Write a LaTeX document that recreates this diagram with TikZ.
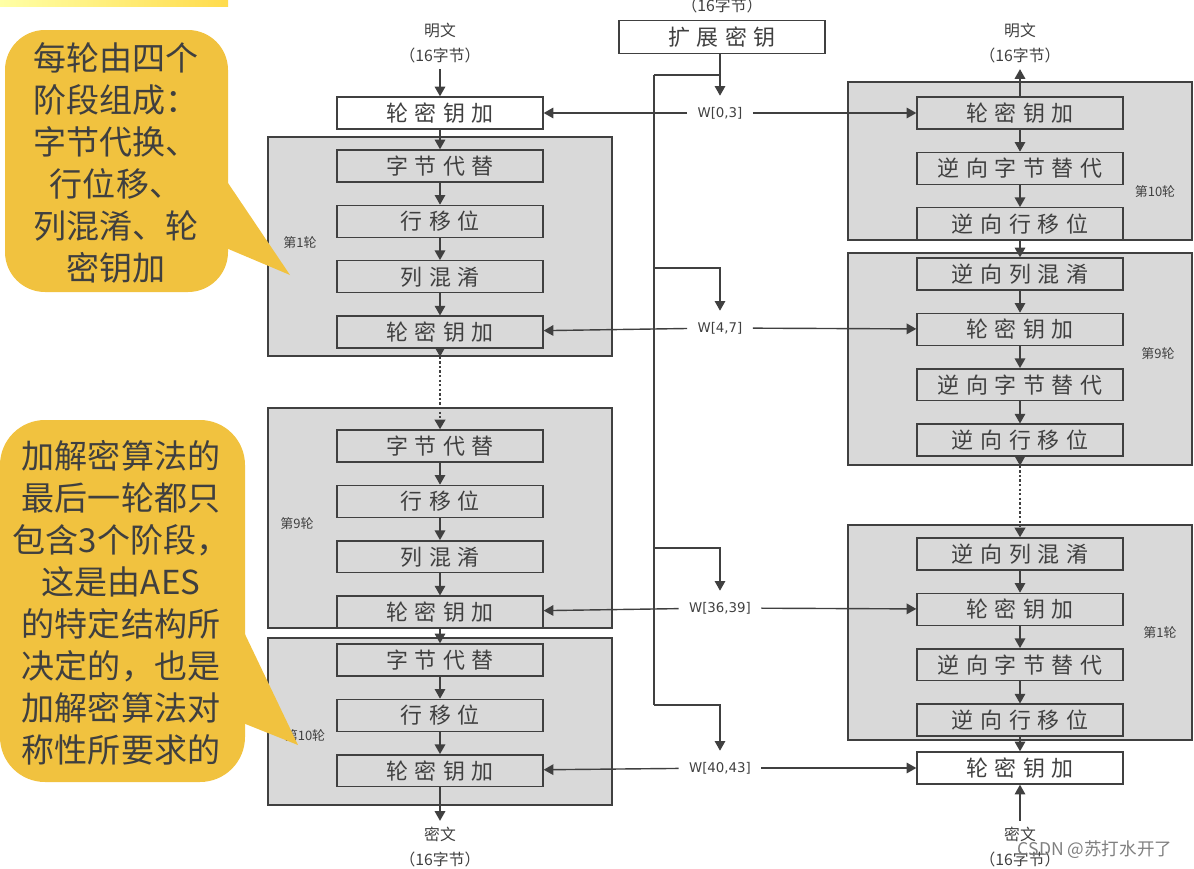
\documentclass[tikz,border=0pt]{standalone}
\usepackage{fontspec}
\setmainfont{Noto Sans CJK SC}
\newfontfamily\stagefont[LetterSpace=30]{Noto Sans CJK SC}
\newfontfamily\wfont{DejaVu Sans}
\usetikzlibrary{arrows.meta,positioning}
\definecolor{ink}{HTML}{404040}
\definecolor{roundgray}{HTML}{D9D9D9}
\definecolor{notefill}{HTML}{F1C23F}
\definecolor{notetext}{HTML}{3F3F3F}
\definecolor{mark}{HTML}{808080}
\tikzset{
  stagebox/.style={draw=ink,line width=.8pt,minimum width=4.12cm,minimum height=.64cm,inner sep=0pt,font=\stagefont\fontsize{12.5}{14}\selectfont,text=ink},
  roundbox/.style={draw=ink,line width=.8pt,fill=roundgray,minimum width=6.88cm,inner sep=0pt},
  roundlabel/.style={font=\fontsize{7.4}{9}\selectfont,text=ink},
  iolabel/.style={align=center,font=\fontsize{9}{14.2}\selectfont,text=ink},
  keylabel/.style={font=\wfont\fontsize{7.6}{9}\selectfont,text=ink,inner xsep=.2cm,inner ysep=.22cm},
  keyline/.style={draw=ink,line width=.8pt},
  arr/.style={keyline,-{Triangle[width=6pt,length=5.5pt]}},
  skip/.style={line width=1.3pt,dash pattern=on 1.3pt off 1.3pt},
  notebox/.style={align=center,text=notetext,font=\fontsize{18.8}{23.9}\selectfont}
}
\begin{document}
\begin{tikzpicture}[x=0.02cm,y=-0.02cm,node distance=.44cm]
  \useasboundingbox (0,0) rectangle (1194,869);
  \shade[left color=yellow!35,middle color=yellow!8,right color=yellow!60!orange!70] (0,0) rectangle (228,6);

  % encryption side
  \node[iolabel] (p1) at (440,43) {明文\\（16字节）};
  \node[stagebox,fill=white] (k0) at (440,113) {轮密钥加};
  \node[roundbox,minimum height=4.38cm] (R1) at (440,246.5) {};
  \node[roundbox,minimum height=4.4cm] (R9) at (440,518) {};
  \node[roundbox,minimum height=3.34cm] (R10) at (440,721.5) {};
  \node[roundlabel] (l1) at (300,243) {第1轮};
  \node[roundlabel] (l9) at (297,524) {第9轮};
  \node[roundlabel] (l10) at (305,736) {第10轮};
  \node[stagebox] (s1a) at (440,166) {字节代替};
  \node[stagebox,below=of s1a] (s1b) {行移位};
  \node[stagebox,below=of s1b] (s1c) {列混淆};
  \node[stagebox,below=of s1c] (s1d) {轮密钥加};
  \node[stagebox] (s9a) at (440,446) {字节代替};
  \node[stagebox,below=of s9a] (s9b) {行移位};
  \node[stagebox,below=of s9b] (s9c) {列混淆};
  \node[stagebox,below=of s9c] (s9d) {轮密钥加};
  \node[stagebox] (s10a) at (440,660) {字节代替};
  \node[stagebox,below=of s10a] (s10b) {行移位};
  \node[stagebox,below=of s10b] (s10c) {轮密钥加};
  \node[iolabel] (c1) at (440,847) {密文\\（16字节）};

  % decryption side
  \node[iolabel] (p2) at (1020,43) {明文\\（16字节）};
  \node[roundbox,minimum height=3.16cm] (D10) at (1020,161) {};
  \node[roundbox,minimum height=4.24cm] (D9) at (1020,359) {};
  \node[roundbox,minimum height=4.3cm] (D1) at (1020,632.5) {};
  \node[roundlabel] (m10) at (1155,192) {第10轮};
  \node[roundlabel] (m9) at (1158,354) {第9轮};
  \node[roundlabel] (m1) at (1160,633) {第1轮};
  \node[stagebox] (d10a) at (1020,113) {轮密钥加};
  \node[stagebox,below=of d10a] (d10b) {逆向字节替代};
  \node[stagebox,below=of d10b] (d10c) {逆向行移位};
  \node[stagebox] (d9a) at (1020,274) {逆向列混淆};
  \node[stagebox,below=of d9a] (d9b) {轮密钥加};
  \node[stagebox,below=of d9b] (d9c) {逆向字节替代};
  \node[stagebox,below=of d9c] (d9d) {逆向行移位};
  \node[stagebox] (d1a) at (1020,554) {逆向列混淆};
  \node[stagebox,below=of d1a] (d1b) {轮密钥加};
  \node[stagebox,below=of d1b] (d1c) {逆向字节替代};
  \node[stagebox,below=of d1c] (d1d) {逆向行移位};
  \node[stagebox,fill=white] (dk) at (1020,768) {轮密钥加};
  \node[iolabel] (c2) at (1020,847) {密文\\（16字节）};

  % key schedule
  \node[iolabel] (kin) at (722,5) {（16字节）};
  \node[stagebox,fill=white,minimum height=.66cm] (ek) at (722,37) {扩展密钥};
  \node[keylabel] (w0) at (720,113) {W[0,3]};
  \node[keylabel] (w1) at (720,328) {W[4,7]};
  \node[keylabel] (w9) at (720,608) {W[36,39]};
  \node[keylabel] (w10) at (720,768) {W[40,43]};
  \coordinate (t0) at (654,75);
  \coordinate (t1) at (654,268);
  \coordinate (t9) at (654,548);
  \coordinate (t10) at (654,705);
  \draw[arr] (ek.south -| w0) -- (w0);
  \draw[keyline] (t0) -- (t0 -| w0) (t0) -- (t10);
  \draw[arr] (t1) -| (w1);
  \draw[arr] (t9) -| (w9);
  \draw[arr] (t10) -| (w10);
  \foreach \x/\y in {w0/k0,w0/d10a,w1/s1d,w1/d9b,w9/s9d,w9/d1b,w10/s10c,w10/dk} \draw[arr] (\x)--(\y);

  % data flow
  \foreach \x/\y in {p1/k0,k0/s1a,s1a/s1b,s1b/s1c,s1c/s1d,s9a/s9b,s9b/s9c,s9c/s9d,s9d/s10a,s10a/s10b,s10b/s10c,s10c/c1,
    d10a/p2,d10a/d10b,d10b/d10c,d10c/d9a,d9a/d9b,d9b/d9c,d9c/d9d,d1a/d1b,d1b/d1c,d1c/d1d,d1d/dk,c2/dk} \draw[arr] (\x)--(\y);
  \draw[arr] (s1d) -- (R1.south);
  \draw[arr,skip] (R1.south) -- (s9a);
  \draw[arr] (d9d) -- (D9.south);
  \draw[arr,skip] (D9.south) -- (d1a);

  % callouts
  \fill[notefill,rounded corners=.8cm] (5,30) rectangle (228,292);
  \fill[notefill] (226,180) -- (290,275) -- (226,248) -- cycle;
  \node[notebox] (note1) at (116,163) {每轮由四个\\阶段组成：\\字节代换、\\行位移、\\列混淆、轮\\密钥加};
  \fill[notefill,rounded corners=.9cm] (0,420) rectangle (245,782);
  \fill[notefill] (243,630) -- (298,745) -- (243,723) -- cycle;
  \node[notebox] (note2) at (121,603) {加解密算法的\\最后一轮都只\\包含3个阶段，\\这是由AES\\的特定结构所\\决定的，也是\\加解密算法对\\称性所要求的};

  \node[text=mark,font=\fontsize{10}{12}\selectfont] (wm) at (1095,850) {CSDN @苏打水开了};
\end{tikzpicture}
\end{document}
